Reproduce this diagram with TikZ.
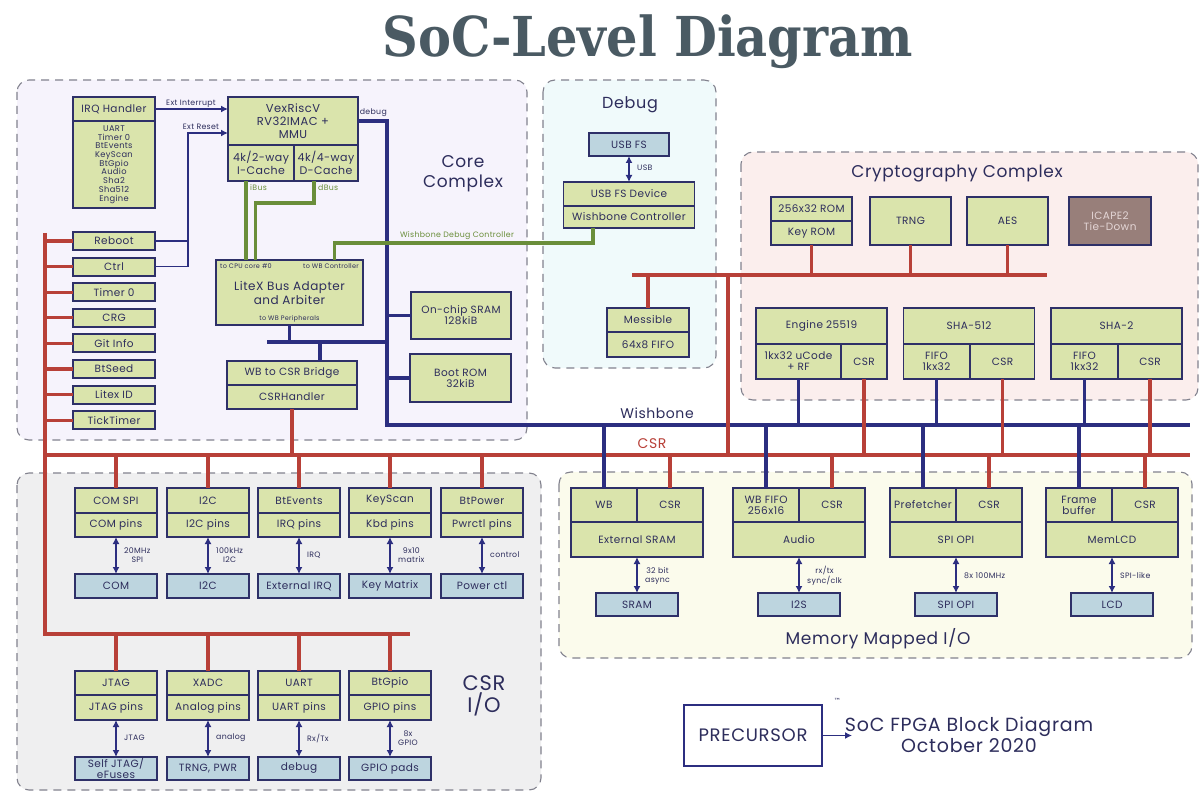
\documentclass[tikz,border=0pt]{standalone}
\usepackage{fontspec}
\setmainfont{Poppins}[LetterSpace=4]
\newfontfamily\titlefont{DejaVu Serif}
\newfontfamily\symfont{DejaVu Sans}
\usetikzlibrary{positioning, arrows.meta}
\definecolor{navy}{RGB}{44,46,128}
\definecolor{boxline}{RGB}{46,48,104}
\definecolor{boxtext}{RGB}{45,45,92}
\definecolor{olive}{RGB}{218,228,172}
\definecolor{pinblue}{RGB}{189,213,223}
\definecolor{csrred}{RGB}{184,64,56}
\definecolor{dbggreen}{RGB}{106,142,58}
\definecolor{corebg}{RGB}{246,243,252}
\definecolor{debugbg}{RGB}{240,250,251}
\definecolor{cryptobg}{RGB}{251,238,237}
\definecolor{csriobg}{RGB}{239,239,240}
\definecolor{mmiobg}{RGB}{251,251,236}
\definecolor{dashgrey}{RGB}{130,130,142}
\definecolor{tiedown}{RGB}{152,127,122}
\definecolor{tietext}{RGB}{228,214,214}
\definecolor{titlegrey}{RGB}{74,90,99}

\begin{document}
\begin{tikzpicture}[x=1pt, y=-1pt,
    blk/.style={draw=boxline, fill=olive, line width=1.9pt, text=boxtext,
      inner sep=1pt, outer sep=0pt, align=center,
      font=\fontsize{10.5}{11}\selectfont},
    pad/.style={blk, fill=pinblue},
    sz/.style 2 args={minimum width=#1pt, minimum height=#2pt},
    region/.style={draw=dashgrey, line width=1.1pt, dash pattern=on 8pt off 6pt, rounded corners=12pt},
    area/.style={text=boxtext, align=center, font=\fontsize{17}{20}\selectfont},
    lbl/.style={text=boxtext, inner sep=1pt, align=center, font=\fontsize{7.8}{8.6}\selectfont},
    wb/.style={draw=navy, line width=3.2pt},
    csr/.style={draw=csrred, line width=3.2pt},
    dbg/.style={draw=dbggreen, line width=3.2pt},
    wire/.style={draw=navy, line width=1.7pt},
    link/.style={wire, <->, >={Latex[length=7pt,width=7pt]}},
    feed/.style={wire, ->, >={Latex[length=7pt,width=7pt]}},
  ]
  \useasboundingbox[fill=white] (0,0) rectangle (1200,802);

  % title
  \node[text=titlegrey, font={\titlefont\bfseries\fontsize{55}{60}\selectfont}] (title) at (648,42) {\scalebox{0.9}[1]{SoC-Level Diagram}};

  % panels
  \draw[region, fill=corebg] (17,80) rectangle (527,440);
  \draw[region, fill=debugbg] (543,80) rectangle (716,368);
  \draw[region, fill=cryptobg] (741,152) rectangle (1198,400);
  \draw[region, fill=csriobg] (17,473) rectangle (541,790);
  \draw[region, fill=mmiobg] (559,472) rectangle (1192,658);
  \node[area] (corelbl) at (463,174) {Core\\Complex};
  \node[area, font=\fontsize{16}{19}\selectfont] (debuglbl) at (630,105) {Debug};
  \node[area] (cryptolbl) at (957,174) {Cryptography Complex};
  \node[area, font=\fontsize{21}{22}\selectfont] (csriolbl) at (484,696) {CSR\\I/O};
  \node[area] (mmiolbl) at (878,639) {Memory Mapped I/O};

  % bus end points
  \coordinate (wbL) at (387,425);
  \coordinate (wbR) at (1190,425);
  \coordinate (csrL) at (45,455);
  \coordinate (csrR) at (1190,455);
  \coordinate (ioT) at (45,233);
  \coordinate (ioL) at (45,634);
  \coordinate (ioR) at (410,634);
  \coordinate (perL) at (267,342);
  \coordinate (cryL) at (632,275);
  \coordinate (cryR) at (1047,275);
  \coordinate (crytap) at (728,275);
  \coordinate (rstbus) at (188,133);

  % core complex
  \node[blk, sz={82}{24}] (irq) at (114,109) {IRQ Handler};
  \node[blk, sz={82}{87}, below=0pt of irq, font=\fontsize{8.3}{8.7}\selectfont] (irqsrc)
    {UART\\Timer 0\\BtEvents\\KeyScan\\BtGpio\\Audio\\Sha2\\Sha512\\Engine};
  \node[blk, sz={130}{48}, font=\fontsize{11.5}{13}\selectfont] (vex) at (293,121) {VexRiscV\\RV32IMAC +\\MMU};
  \node[blk, sz={66}{36}, anchor=north west, font=\fontsize{11}{12.5}\selectfont] (icache) at (vex.south west) {4k/2-way\\I-Cache};
  \node[blk, sz={64}{36}, anchor=north east, font=\fontsize{11}{12.5}\selectfont] (dcache) at (vex.south east) {4k/4-way\\D-Cache};
  \node[blk, sz={147}{65}, font=\fontsize{12}{14}\selectfont] (litex) at (289.5,292.5) {LiteX Bus Adapter\\and Arbiter};
  \node[lbl, anchor=north west, font=\fontsize{6.5}{7}\selectfont] (tocpu) at ([shift={(3pt,-2pt)}]litex.north west) {to CPU core \#0};
  \node[lbl, anchor=north east, font=\fontsize{6.5}{7}\selectfont] (towbc) at ([shift={(-3pt,-2pt)}]litex.north east) {to WB Controller};
  \node[lbl, anchor=south, font=\fontsize{6.5}{7}\selectfont] (towbp) at ([yshift=2pt]litex.south) {to WB Peripherals};
  \node[blk, sz={100}{47}] (sram) at (461,315.5) {On-chip SRAM\\128kiB};
  \node[blk, sz={101}{48}] (bootrom) at (460.5,378) {Boot ROM\\32kiB};
  \node[blk, sz={130}{24}] (bridge) at (292,373) {WB to CSR Bridge};
  \node[blk, sz={130}{24}, below=0pt of bridge] (csrhandler) {CSRHandler};
  \foreach \nm/\txt [count=\i from 0] in {reboot/Reboot, ctrl/Ctrl, timer/Timer 0, crg/CRG,
      gitinfo/Git Info, btseed/BtSeed, litexid/Litex ID, ticktimer/TickTimer}{
    \node[blk, sz={82}{18}] (\nm) at (114,{241+25.6*\i}) {\txt};
    \draw[csr] (\nm.west) -- (\nm.west -| csrL);
  }

  % core wiring
  \draw[feed] (irq.east) -- (irq.east -| vex.west);
  \node[lbl, anchor=south] (extirq) at (191,109) {Ext Interrupt};
  \draw[wire] (reboot.east) -- (reboot.east -| rstbus);
  \draw[feed] (ctrl.east) -| (rstbus) -- (rstbus -| vex.west);
  \node[lbl, anchor=south] (extrst) at (201,131) {Ext Reset};
  \draw[dbg] ([xshift=-15pt]icache.south) coordinate (ibus) -- (ibus |- litex.north);
  \draw[dbg] ([xshift=-12pt]dcache.south) -- ++(0,22) -| ([xshift=-34pt]litex.north);
  \node[lbl, anchor=west, text=dbggreen] (ibuslbl) at (249,188) {iBus};
  \node[lbl, anchor=west, text=dbggreen] (dbuslbl) at (317,188) {dBus};
  \draw[wb] (vex.east) -- (vex.east -| wbL) -- (wbL) -- (wbR);
  \node[lbl, anchor=south east] (dbgwire) at (388,118) {debug};
  \draw[wb] (litex.south) -- (litex.south |- perL);
  \draw[wb] (perL) -- (perL -| wbL);
  \draw[wb] ([xshift=28pt]bridge.north) -- ([xshift=28pt]bridge.north |- perL);
  \draw[wb] (sram.west) -- (sram.west -| wbL);
  \draw[wb] (bootrom.west) -- (bootrom.west -| wbL);

  % csr buses
  \draw[csr] (ioT) -- (ioL) -- (ioR);
  \draw[csr] (csrL) -- (csrR);
  \draw[csr] (csrhandler.south) -- (csrhandler.south |- csrL);
  \node[area, font=\fontsize{14}{16}\selectfont] (wblbl) at (657,413) {Wishbone};
  \node[area, text=csrred, font=\fontsize{14}{16}\selectfont] (csrlbl) at (652,444) {CSR};

  % debug
  \node[pad, sz={80}{23}] (usbfs) at (629,144.5) {USB FS};
  \node[blk, sz={131}{24}] (usbdev) at (629,194) {USB FS Device};
  \node[blk, sz={131}{22}, below=0pt of usbdev] (wbctl) {Wishbone Controller};
  \draw[link] (usbfs.south) -- (usbdev.north);
  \node[lbl, anchor=west] (usblbl) at (636,168) {USB};
  \draw[dbg] ([xshift=45pt]litex.north) -- ++(0,-17) -| ([xshift=-36pt]wbctl.south);
  \node[lbl, anchor=south, text=dbggreen] (wbdbglbl) at (457,241) {Wishbone Debug Controller};
  \node[blk, sz={82}{24}] (messible) at (648,320) {Messible};
  \node[blk, sz={82}{25}, below=0pt of messible] (fifo) {64x8 FIFO};

  % cryptography complex
  \draw[csr] (cryL) -- (cryR);
  \draw[csr] (crytap) -- (crytap |- csrL);
  \draw[csr] (messible.north) -- (messible.north |- cryL);
  \node[blk, sz={81}{24}] (keyrhead) at (811.5,209) {256x32 ROM};
  \node[blk, sz={81}{24}, below=0pt of keyrhead] (keyrom) {Key ROM};
  \node[blk, sz={81}{48}] (trng) at (910.5,221) {TRNG};
  \node[blk, sz={81}{48}] (aes) at (1007.5,221) {AES};
  \node[blk, sz={82}{48}, fill=tiedown, text=tietext] (icape) at (1110,221) {ICAPE2\\Tie-Down};
  \foreach \nm in {keyrom, trng, aes}
    \draw[csr] (\nm.south) -- (\nm.south |- cryL);
  \foreach \nm/\x/\hd/\lo/\lw/\cw in {eng/821.5/Engine 25519/{1kx32 uCode\\+ RF}/85/46,
      shafive/969/SHA-512/{FIFO\\1kx32}/66/64,
      shatwo/1116.5/SHA-2/{FIFO\\1kx32}/67/64}{
    \node[blk, sz={131}{36}] (\nm) at (\x,326) {\hd};
    \node[blk, sz={\lw}{35}, anchor=north west] (\nm fifo) at (\nm.south west) {\lo};
    \node[blk, sz={\cw}{35}, anchor=north east] (\nm csr) at (\nm.south east) {CSR};
    \draw[wb] (\nm fifo.south) -- (\nm fifo.south |- wbL);
    \draw[csr] (\nm csr.south) -- (\nm csr.south |- csrL);
  }

  % memory mapped i/o
  \foreach \nm/\xl/\tp/\md/\pd/\lb in {
      xsram/571/WB/External SRAM/SRAM/{32 bit\\async},
      audio/733/{WB FIFO\\256x16}/Audio/I2S/{rx/tx\\sync/clk},
      spi/890/Prefetcher/SPI OPI/SPI OPI/8x 100MHz,
      lcd/1046/{Frame\\buffer}/MemLCD/LCD/SPI-like}{
    \node[blk, sz={66}{34}, anchor=north west] (\nm wb) at (\xl,488) {\tp};
    \node[blk, sz={66}{34}, anchor=north west] (\nm csr) at (\nm wb.north east) {CSR};
    \node[blk, sz={132}{35}, anchor=north west] (\nm) at (\nm wb.south west) {\md};
    \node[pad, sz={82}{23}] (\nm pad) at ({\xl+66},604.5) {\pd};
    \draw[link] (\nm.south) -- (\nm pad.north);
    \node[lbl, anchor=west] (\nm lbl) at ({\xl+73},576) {\lb};
    \draw[wb] (\nm wb.north) -- (\nm wb.north |- wbL);
    \draw[csr] (\nm csr.north) -- (\nm csr.north |- csrL);
  }

  % csr i/o, upper row
  \foreach \nm/\x/\hd/\bd/\pd/\lb in {
      comspi/116/COM SPI/COM pins/COM/{20MHz\\SPI},
      i2c/208/I2C/I2C pins/I2C/{100kHz\\I2C},
      btevents/299/BtEvents/IRQ pins/External IRQ/IRQ,
      keyscan/390/KeyScan/Kbd pins/Key Matrix/{9x10\\matrix},
      btpower/482/BtPower/Pwrctl pins/Power ctl/control}{
    \node[blk, sz={82}{25}] (\nm) at (\x,500.5) {\hd};
    \node[blk, sz={82}{24}, below=0pt of \nm] (\nm pins) {\bd};
    \node[pad, sz={82}{24}] (\nm pad) at (\x,586) {\pd};
    \draw[link] (\nm pins.south) -- (\nm pad.north);
    \node[lbl, anchor=west] (\nm lbl) at ({\x+7},555) {\lb};
    \draw[csr] (\nm.north) -- (\nm.north |- csrL);
  }

  % csr i/o, lower row
  \foreach \nm/\x/\hd/\bd/\pd/\lb in {
      jtag/116/JTAG/JTAG pins/{Self JTAG/\\eFuses}/JTAG,
      xadc/208/XADC/Analog pins/{TRNG, PWR}/analog,
      uart/299/UART/UART pins/debug/{Rx/Tx},
      btgpio/390/BtGpio/GPIO pins/GPIO pads/{8x\\GPIO}}{
    \node[blk, sz={82}{24}] (\nm) at (\x,683) {\hd};
    \node[blk, sz={82}{25}, below=0pt of \nm] (\nm pins) {\bd};
    \node[pad, sz={82}{23}] (\nm pad) at (\x,768.5) {\pd};
    \draw[link] (\nm pins.south) -- (\nm pad.north);
    \node[lbl, anchor=west] (\nm lbl) at ({\x+7},738) {\lb};
    \draw[csr] (\nm.north) -- (\nm.north |- ioL);
  }

  % signature
  \node[draw=navy, line width=1.2pt, sz={138}{61}, text=boxtext, font=\fontsize{18}{20}\selectfont] (precursor) at (753,735.5) {PRECURSOR};
  \node[text=boxtext, inner sep=0pt, anchor=south west, font={\symfont\fontsize{7}{8}\selectfont}] (tm) at ([shift={(11pt,1pt)}]precursor.north east) {™};
  \coordinate (capin) at (852,735.5);
  \draw[feed] (precursor.east) -- (capin);
  \node[text=boxtext, align=center, font=\fontsize{19}{21}\selectfont] (caption) at (969,735) {SoC FPGA Block Diagram\\October 2020};
\end{tikzpicture}
\end{document}
